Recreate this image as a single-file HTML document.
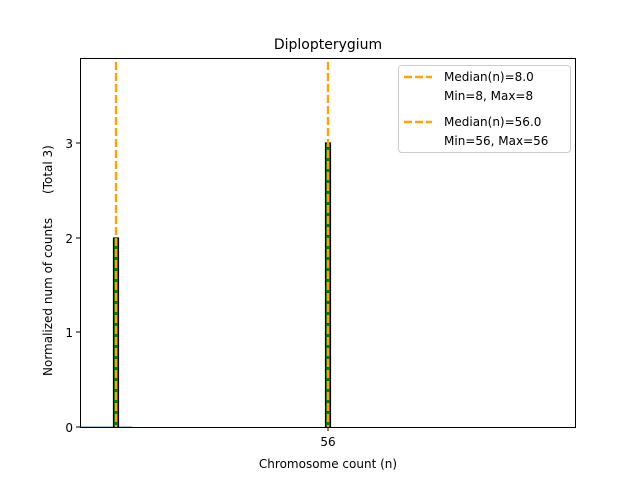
<!DOCTYPE html>
<html><head><style>
body{margin:0;background:#fff;width:640px;height:480px;overflow:hidden;font-family:"Liberation Sans","DejaVu Sans",sans-serif}
</style></head><body>
<svg width="640" height="480" xmlns="http://www.w3.org/2000/svg" font-family="DejaVu Sans, Liberation Sans, sans-serif">
<rect width="640" height="480" fill="#fff"/>
<text x="328" y="49" font-size="14" text-anchor="middle">Diplopterygium</text>
<line x1="80" y1="427" x2="132" y2="427" stroke="#a6c8e0" stroke-width="2"/>
<rect x="113.5" y="238" width="5" height="189" fill="#008000" stroke="#000" stroke-width="1.2"/>
<line x1="116" y1="62" x2="116" y2="427" stroke="#ffa500" stroke-width="2.4" stroke-dasharray="8,3"/>
<rect x="325.5" y="143" width="5" height="284" fill="#008000" stroke="#000" stroke-width="1.2"/>
<line x1="328" y1="62" x2="328" y2="427" stroke="#ffa500" stroke-width="2.4" stroke-dasharray="8,3"/>
<rect x="80.5" y="58.5" width="495" height="369" fill="none" stroke="#000" stroke-width="1"/>
<g font-size="12" text-anchor="end">
<line x1="76" y1="427" x2="80" y2="427" stroke="#000"/><text x="73" y="432">0</text>
<line x1="76" y1="332" x2="80" y2="332" stroke="#000"/><text x="73" y="337">1</text>
<line x1="76" y1="238" x2="80" y2="238" stroke="#000"/><text x="73" y="243">2</text>
<line x1="76" y1="143" x2="80" y2="143" stroke="#000"/><text x="73" y="148">3</text>
</g>
<line x1="328" y1="427" x2="328" y2="431" stroke="#000"/>
<text x="328" y="446" font-size="12" text-anchor="middle">56</text>
<text x="328" y="468" font-size="12" text-anchor="middle">Chromosome count (n)</text>
<text transform="translate(52,376) rotate(-90)" font-size="12">Normalized num of counts</text>
<text transform="translate(52,194) rotate(-90)" font-size="12">(Total 3)</text>
<rect x="398.5" y="65.5" width="172" height="87" rx="3" fill="#fff" stroke="#ccc"/>
<g font-size="12">
<line x1="404" y1="77" x2="432" y2="77" stroke="#ffa500" stroke-width="2.4" stroke-dasharray="8,3"/>
<text x="444" y="81">Median(n)=8.0</text>
<text x="444" y="100">Min=8, Max=8</text>
<line x1="404" y1="122" x2="432" y2="122" stroke="#ffa500" stroke-width="2.4" stroke-dasharray="8,3"/>
<text x="444" y="126">Median(n)=56.0</text>
<text x="444" y="145">Min=56, Max=56</text>
</g>
</svg>
</body></html>
